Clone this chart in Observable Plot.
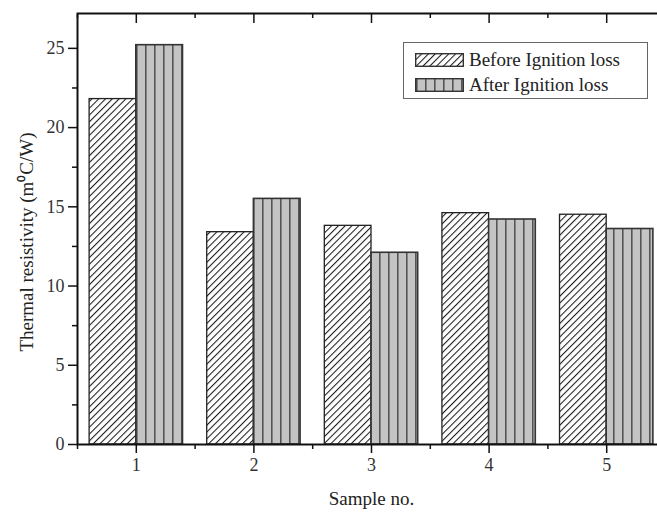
<!DOCTYPE html>
<html><head><meta charset="utf-8">
<script src="https://cdn.jsdelivr.net/npm/d3@7"></script>
<script src="https://cdn.jsdelivr.net/npm/@observablehq/plot@0.6"></script>
<style>
body{margin:0;background:#fff;}
#wrap{position:relative;width:657px;height:512px;overflow:hidden;background:#fff;}
#wrap svg text{font-family:"Liberation Serif","Times New Roman",serif !important;}
#legend{position:absolute;left:403px;top:42px;width:245px;height:57px;border:1.3px solid #666;box-sizing:border-box;font-family:"Liberation Serif","Times New Roman",serif;font-size:19px;color:#222;background:#fff;}
.row{position:absolute;left:11px;height:18px;display:flex;align-items:center;}
.row svg{margin-right:5px;}
</style>
</head><body>
<div id="wrap"></div>
<script>
const samples = [1, 2, 3, 4, 5];
const beforeIgnition = [21.8, 13.4, 13.8, 14.6, 14.5];
const afterIgnition = [25.2, 15.5, 12.1, 14.2, 13.6];
const seriesNames = ["Before Ignition loss", "After Ignition loss"];
const yTicks = [0, 5, 10, 15, 20, 25];
const yMinorTicks = [2.5, 7.5, 12.5, 17.5, 22.5];
const xMinorTicks = [0.5, 1.5, 2.5, 3.5, 4.5, 5.5];
const xTitle = "Sample no.";
const yTitle = "Thermal resistivity (m\u2070C/W)";
const halfBand = 0.397;

const rows = samples.flatMap((s, i) => [
  {sample: s, series: seriesNames[0], value: beforeIgnition[i]},
  {sample: s, series: seriesNames[1], value: afterIgnition[i]}
]);

const serif = "Liberation Serif, Times New Roman, serif";

const chart = Plot.plot({
  width: 657, height: 512,
  marginLeft: 77, marginRight: -8, marginTop: 13, marginBottom: 68,
  x: {domain: [0.5, 5.5]},
  y: {domain: [0, 27.2]},
  style: {fontFamily: serif, fontSize: "17px", color: "#333", background: "white", overflow: "visible"},
  marks: [
    Plot.rect(rows.filter(d => d.series === seriesNames[0]), {
      x1: d => d.sample - halfBand, x2: d => d.sample, y1: 0, y2: "value",
      fill: "url(#hatch)", stroke: "#222", strokeWidth: 1.3
    }),
    Plot.rect(rows.filter(d => d.series === seriesNames[1]), {
      x1: d => d.sample, x2: d => d.sample + halfBand, y1: 0, y2: "value",
      fill: "url(#vstripe)", stroke: "#333", strokeWidth: 1.6
    }),
    Plot.axisX({anchor: "bottom", ticks: samples, tickSize: 9, tickPadding: 5, tickFormat: d => String(d), label: null, stroke: "#111", fill: "#333", strokeWidth: 1.5, fontSize: 18, fontFamily: serif}),
    Plot.axisX({anchor: "bottom", ticks: xMinorTicks, tickSize: 5, text: null, label: null, stroke: "#111", strokeWidth: 1.5}),
    Plot.axisX({anchor: "top", ticks: samples, tickSize: -9, text: null, label: null, stroke: "#111", strokeWidth: 1.5}),
    Plot.axisX({anchor: "top", ticks: xMinorTicks, tickSize: -4, text: null, label: null, stroke: "#111", strokeWidth: 1.5}),
    Plot.axisY({anchor: "left", ticks: yTicks, tickSize: 9, tickPadding: 4, tickFormat: d => String(d), label: null, stroke: "#111", fill: "#333", strokeWidth: 1.5, fontSize: 18, fontFamily: serif}),
    Plot.axisY({anchor: "left", ticks: yMinorTicks, tickSize: 5, text: null, label: null, stroke: "#111", strokeWidth: 1.5}),
    Plot.axisY({anchor: "right", ticks: yTicks, tickSize: -9, text: null, label: null, stroke: "#111", strokeWidth: 1.5}),
    Plot.frame({stroke: "#111", strokeWidth: 2}),
    Plot.text([yTitle], {frameAnchor: "left", textAnchor: "middle", lineAnchor: "middle", rotate: -90, dx: -51, dy: 13, fontSize: 19, fontFamily: serif, fill: "#222"}),
    Plot.text([xTitle], {frameAnchor: "bottom", textAnchor: "middle", lineAnchor: "middle", dy: 54, fontSize: 19, fontFamily: serif, fill: "#222"})
  ]
});

const ns = "http://www.w3.org/2000/svg";
const defs = document.createElementNS(ns, "defs");
defs.innerHTML = `
<pattern id="hatch" patternUnits="userSpaceOnUse" width="4.8" height="4.8" patternTransform="rotate(45)">
  <rect width="4.8" height="4.8" fill="#fff"/>
  <line x1="0.5" y1="0" x2="0.5" y2="4.8" stroke="#1a1a1a" stroke-width="1.1"/>
</pattern>
<pattern id="vstripe" patternUnits="userSpaceOnUse" width="9" height="9" x="1">
  <rect width="9" height="9" fill="#c4c4c4"/>
  <line x1="0.8" y1="0" x2="0.8" y2="9" stroke="#555" stroke-width="1.6"/>
</pattern>`;
chart.insertBefore(defs, chart.firstChild);
chart.setAttribute("font-family", serif);

const wrap = document.getElementById("wrap");
wrap.appendChild(chart);

const legend = document.createElement("div");
legend.id = "legend";
const fills = ["url(#hatch)", "url(#vstripe)"];
const tops = [8, 33];
seriesNames.forEach((name, i) => {
  const r = document.createElement("div");
  r.className = "row";
  r.style.top = tops[i] + "px";
  r.innerHTML = `<svg width="49" height="14"><rect x="0.7" y="0.7" width="47.6" height="12.6" fill="${fills[i]}" stroke="#333" stroke-width="1.4"/></svg><span>${name}</span>`;
  legend.appendChild(r);
});
wrap.appendChild(legend);
</script>
</body></html>
